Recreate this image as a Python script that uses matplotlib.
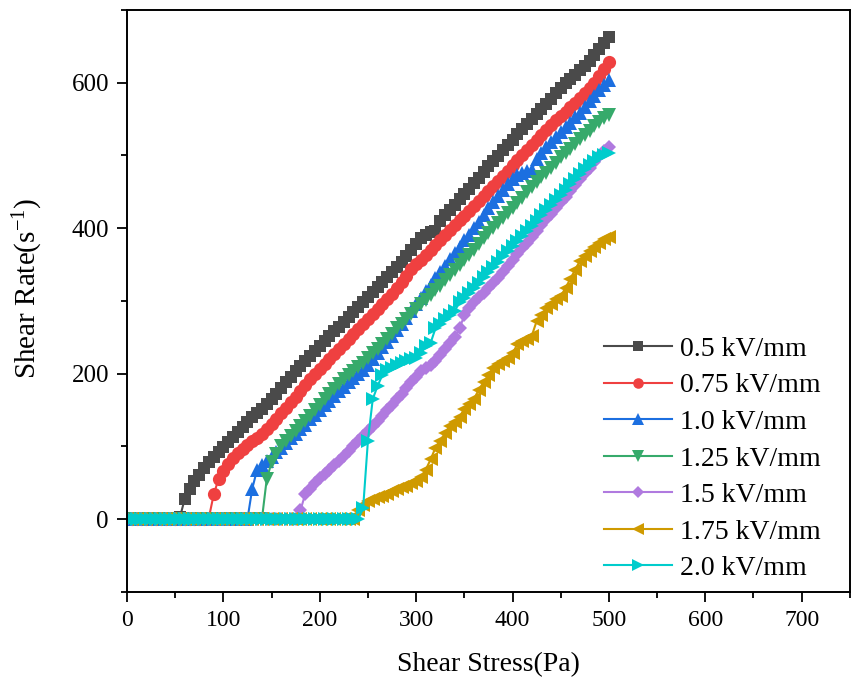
import numpy as np
import matplotlib
matplotlib.use("Agg")
import matplotlib.pyplot as plt
from matplotlib.ticker import MultipleLocator

plt.rcParams['font.family'] = ['Liberation Serif', 'DejaVu Serif']
plt.rcParams['mathtext.fontset'] = 'custom'
plt.rcParams['mathtext.rm'] = 'Liberation Serif'
plt.rcParams['mathtext.it'] = 'Liberation Serif:italic'

# shear stress (Pa), shared by every field strength
stress = [0, 5, 10, 15, 20, 25, 30, 35, 40, 45, 50, 55, 60, 65, 70, 75, 80, 85, 90, 95,
          100, 105, 110, 115, 120, 125, 130, 135, 140, 145, 150, 155, 160, 165, 170, 175, 180, 185, 190, 195,
          200, 205, 210, 215, 220, 225, 230, 235, 240, 245, 250, 255, 260, 265, 270, 275, 280, 285, 290, 295,
          300, 305, 310, 315, 320, 325, 330, 335, 340, 345, 350, 355, 360, 365, 370, 375, 380, 385, 390, 395,
          400, 405, 410, 415, 420, 425, 430, 435, 440, 445, 450, 455, 460, 465, 470, 475, 480, 485, 490, 495,
          500]

labels = ["0.5 kV/mm", "0.75 kV/mm", "1.0 kV/mm", "1.25 kV/mm", "1.5 kV/mm", "1.75 kV/mm", "2.0 kV/mm"]

rate_05 = [0, 0, 0, 0, 0, 0, 0, 0, 0, 0, 0, 3, 28, 42, 52, 61, 70, 78, 85, 92,
           99, 106, 113, 120, 127, 134, 140, 146, 152, 158, 165, 172, 180, 188, 196, 203, 210, 217, 224, 231,
           238, 245, 252, 258, 264, 271, 278, 284, 291, 298, 305, 312, 319, 326, 333, 340, 347, 354, 362, 370,
           378, 386, 391, 394, 396, 410, 418, 425, 432, 440, 447, 454, 462, 469, 477, 485, 492, 499, 507, 514,
           521, 529, 536, 543, 550, 557, 564, 571, 578, 585, 592, 599, 605, 611, 617, 623, 630, 638, 646, 654,
           662]

rate_075 = [0, 0, 0, 0, 0, 0, 0, 0, 0, 0, 0, 0, 0, 0, 0, 0, 0, 2, 34, 55,
            66, 76, 84, 91, 97, 102, 107, 111, 117, 124, 131, 138, 146, 153, 161, 168, 176, 184, 192, 199,
            206, 213, 220, 227, 234, 241, 248, 254, 261, 268, 275, 282, 289, 296, 302, 310, 318, 326, 334, 344,
            350, 356, 363, 370, 377, 384, 391, 398, 404, 411, 417, 423, 430, 437, 444, 451, 458, 465, 472, 479,
            486, 493, 500, 507, 514, 521, 528, 535, 542, 548, 554, 560, 566, 572, 579, 586, 593, 600, 609, 618,
            628]

rate_10 = [0, 0, 0, 0, 0, 0, 0, 0, 0, 0, 0, 0, 0, 0, 0, 0, 0, 0, 0, 0,
           0, 0, 0, 0, 0, 0, 42, 68, 74, 80, 86, 92, 98, 104, 111, 117, 124, 130, 137, 143,
           150, 157, 163, 169, 176, 182, 188, 194, 199, 205, 212, 220, 228, 236, 244, 252, 260, 268, 277, 286,
           295, 304, 313, 322, 331, 340, 348, 357, 366, 374, 383, 391, 400, 409, 418, 427, 436, 444, 452, 460,
           467, 473, 476, 478, 480, 495, 503, 511, 518, 525, 532, 539, 545, 552, 558, 566, 574, 582, 590, 597,
           603]

rate_125 = [0, 0, 0, 0, 0, 0, 0, 0, 0, 0, 0, 0, 0, 0, 0, 0, 0, 0, 0, 0,
            0, 0, 0, 0, 0, 0, 0, 0, 0, 55, 78, 90, 100, 107, 114, 121, 128, 135, 142, 150,
            157, 165, 172, 179, 186, 192, 198, 203, 209, 215, 221, 228, 234, 241, 248, 255, 262, 268, 275, 282,
            289, 295, 301, 308, 315, 321, 328, 335, 342, 349, 356, 363, 370, 378, 386, 393, 400, 407, 414, 421,
            428, 435, 442, 449, 456, 463, 470, 476, 483, 490, 497, 503, 509, 516, 522, 528, 534, 540, 546, 551,
            555]

rate_15 = [0, 0, 0, 0, 0, 0, 0, 0, 0, 0, 0, 0, 0, 0, 0, 0, 0, 0, 0, 0,
           0, 0, 0, 0, 0, 0, 0, 0, 0, 0, 0, 0, 0, 0, 0, 0, 12, 35, 42, 49,
           56, 62, 68, 74, 80, 87, 94, 100, 107, 114, 121, 128, 135, 142, 150, 157, 165, 172, 180, 188,
           196, 203, 208, 212, 218, 226, 234, 242, 250, 262, 280, 290, 298, 305, 311, 318, 325, 332, 340, 348,
           356, 364, 372, 380, 388, 396, 404, 412, 420, 428, 436, 443, 451, 459, 467, 475, 483, 491, 499, 506,
           512]

rate_175 = [0, 0, 0, 0, 0, 0, 0, 0, 0, 0, 0, 0, 0, 0, 0, 0, 0, 0, 0, 0,
            0, 0, 0, 0, 0, 0, 0, 0, 0, 0, 0, 0, 0, 0, 0, 0, 0, 0, 0, 0,
            0, 0, 0, 0, 0, 0, 0, 0, 12, 20, 25, 28, 30, 32, 35, 38, 41, 44, 46, 49,
            52, 58, 68, 82, 98, 108, 118, 128, 133, 140, 152, 158, 165, 178, 188, 198, 208, 213, 218, 222,
            228, 240, 245, 248, 252, 272, 280, 290, 296, 302, 306, 318, 330, 343, 355, 362, 368, 374, 380, 385,
            388]

rate_20 = [0, 0, 0, 0, 0, 0, 0, 0, 0, 0, 0, 0, 0, 0, 0, 0, 0, 0, 0, 0,
           0, 0, 0, 0, 0, 0, 0, 0, 0, 0, 0, 0, 0, 0, 0, 0, 0, 0, 0, 0,
           0, 0, 0, 0, 0, 0, 0, 0, 0, 15, 108, 165, 183, 198, 205, 208, 212, 215, 218, 220,
           222, 228, 238, 242, 262, 268, 275, 280, 286, 298, 304, 311, 318, 325, 333, 340, 347, 354, 361, 368,
           375, 382, 389, 396, 403, 410, 418, 425, 432, 439, 446, 453, 460, 467, 474, 481, 487, 492, 497, 500,
           503]

series = [rate_05, rate_075, rate_10, rate_125, rate_15, rate_175, rate_20]
colors = ["#4a4a4a", "#ef4040", "#1c6fe0", "#36aa6b", "#b07adf", "#cf9a00", "#00cccc"]
markers = ["s", "o", "^", "v", "D", "<", ">"]
sizes = [9, 9.5, 10, 10, 7.5, 10, 10]

fig = plt.figure(figsize=(8.55, 6.98), dpi=100)
ax = fig.add_axes([0.1485, 0.152, 0.8455, 0.834])

for rate, color, marker, ms, label in zip(series, colors, markers, sizes, labels):
    ax.plot(stress, rate, color=color, marker=marker, markersize=ms, linewidth=1.5,
            markeredgewidth=0, label=label)

ax.set_xlim(0, 750)
ax.set_ylim(-100, 700)
ax.xaxis.set_major_locator(MultipleLocator(100))
ax.xaxis.set_minor_locator(MultipleLocator(50))
ax.yaxis.set_major_locator(MultipleLocator(200))
ax.yaxis.set_minor_locator(MultipleLocator(100))
ax.tick_params(which='major', direction='out', length=7, width=1.3, pad=6)
ax.tick_params(which='minor', direction='out', length=4, width=1.3)
ax.tick_params(axis='y', labelsize=18)
ax.tick_params(axis='x', labelsize=17)
ax.tick_params(top=False, right=False)
for sp in ax.spines.values():
    sp.set_linewidth(1.4)

ax.set_xlabel("Shear Stress(Pa)", fontsize=20, labelpad=15)
ax.set_ylabel("Shear Rate(s$^{-1}$)", fontsize=21)
ax.yaxis.set_label_coords(-0.113, 0.522)

leg = ax.legend(loc='upper left', bbox_to_anchor=(0.6445, 0.458), frameon=False, fontsize=20,
                handlelength=2.45, handletextpad=0.3, labelspacing=0.4, borderaxespad=0,
                markerscale=0.8)

fig.savefig("out.png", dpi=100)
